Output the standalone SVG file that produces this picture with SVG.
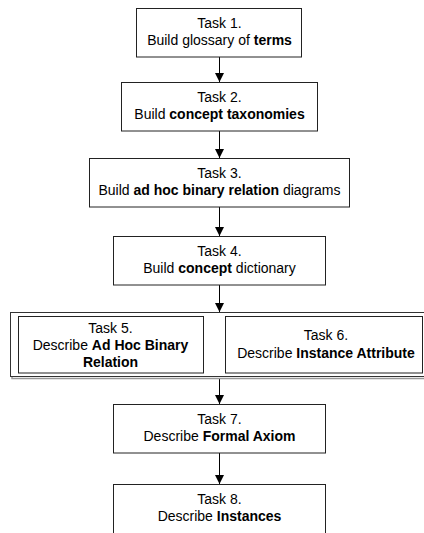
<svg xmlns="http://www.w3.org/2000/svg" width="424" height="533" viewBox="0 0 424 533">
<defs>
<marker id="arr" markerUnits="userSpaceOnUse" markerWidth="10" markerHeight="10" refX="9" refY="4.5" orient="auto">
<path d="M0,0 L9,4.5 L0,9 Z" fill="#000"/>
</marker>
<style>
.box{fill:#fff;stroke:#222;stroke-width:1}
.t{font-family:"Liberation Sans",Arial,sans-serif;font-size:14px;fill:#000;text-anchor:middle}
.b{font-weight:bold}
.c{stroke:#000;stroke-width:1;fill:none;marker-end:url(#arr)}
</style>
</defs>
<rect width="424" height="533" fill="#fff"/>
<g id="connectors">
<line class="c" x1="219.5" y1="57" x2="219.5" y2="82"/>
<line class="c" x1="219.5" y1="131" x2="219.5" y2="158"/>
<line class="c" x1="219.5" y1="207" x2="219.5" y2="236"/>
<line class="c" x1="219.5" y1="285" x2="219.5" y2="312"/>
<line class="c" x1="219.5" y1="378" x2="219.5" y2="404"/>
<line class="c" x1="219.5" y1="453" x2="219.5" y2="484"/>
</g>
<g id="task1">
<rect class="box" x="136.5" y="8.5" width="165" height="48.5"/>
<text class="t" x="219.5" y="28">Task 1.</text>
<text class="t" x="219.5" y="45">Build glossary of <tspan class="b">terms</tspan></text>
</g>
<g id="task2">
<rect class="box" x="121.5" y="82.5" width="196" height="48.5"/>
<text class="t" x="219.5" y="102">Task 2.</text>
<text class="t" x="219.5" y="119">Build <tspan class="b">concept taxonomies</tspan></text>
</g>
<g id="task3">
<rect class="box" x="89.5" y="158.5" width="260" height="48.5"/>
<text class="t" x="219.5" y="178">Task 3.</text>
<text class="t" x="219.5" y="195">Build <tspan class="b">ad hoc binary relation</tspan> diagrams</text>
</g>
<g id="task4">
<rect class="box" x="113.5" y="236.5" width="212" height="48.5"/>
<text class="t" x="219.5" y="256">Task 4.</text>
<text class="t" x="219.5" y="273">Build <tspan class="b">concept</tspan> dictionary</text>
</g>
<g id="group56">
<rect x="12" y="314" width="420" height="64.5" fill="none" stroke="#999" stroke-width="1.5"/>
<rect x="10.5" y="312.5" width="420" height="64" fill="#fff" stroke="#333" stroke-width="1"/>
</g>
<g id="task5">
<rect class="box" x="18.5" y="316.5" width="185" height="56.5"/>
<text class="t" x="110.5" y="333">Task 5.</text>
<text class="t" x="110.5" y="350">Describe <tspan class="b">Ad Hoc Binary</tspan></text>
<text class="t b" x="110.5" y="367">Relation</text>
</g>
<g id="task6">
<rect class="box" x="225.5" y="316.5" width="197" height="56.5"/>
<text class="t" x="326" y="340">Task 6.</text>
<text class="t" x="326" y="358">Describe <tspan class="b">Instance Attribute</tspan></text>
</g>
<g id="task7">
<rect class="box" x="113.5" y="404.5" width="212" height="48.5"/>
<text class="t" x="219.5" y="424">Task 7.</text>
<text class="t" x="219.5" y="441">Describe <tspan class="b">Formal Axiom</tspan></text>
</g>
<g id="task8">
<rect class="box" x="113.5" y="484.5" width="212" height="60"/>
<text class="t" x="219.5" y="504">Task 8.</text>
<text class="t" x="219.5" y="521">Describe <tspan class="b">Instances</tspan></text>
</g>
</svg>
